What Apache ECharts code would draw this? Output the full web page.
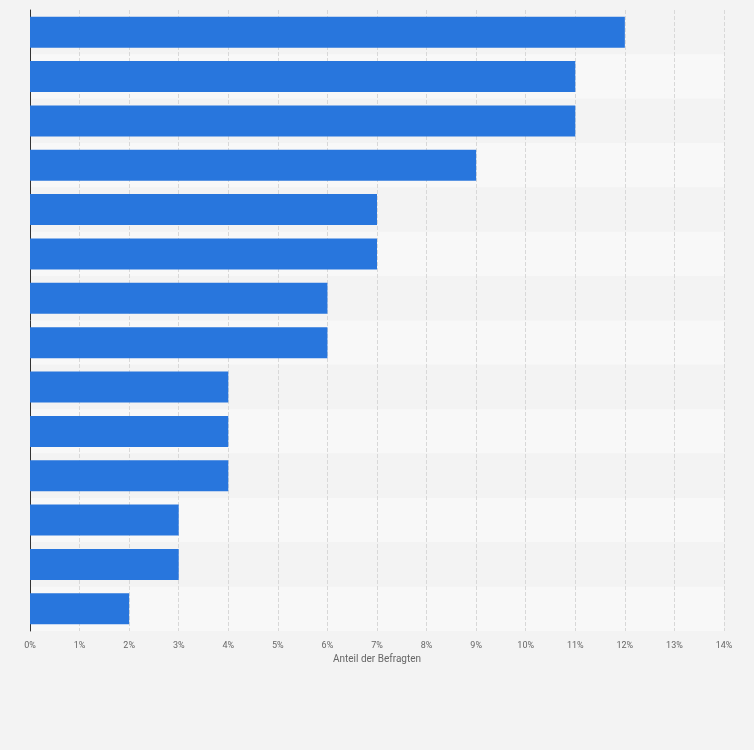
<!DOCTYPE html>
<html><head><meta charset="utf-8">
<script src="https://cdn.jsdelivr.net/npm/echarts@6/dist/echarts.min.js"></script>
<style>html,body{margin:0;background:#f3f3f3}#c{width:754px;height:750px}</style>
</head><body><div id="c"></div>
<script>
// rows top to bottom (labels are not shown in the picture)
var categories = ['1','2','3','4','5','6','7','8','9','10','11','12','13','14'];
var values = [12, 11, 11, 9, 7, 7, 6, 6, 4, 4, 4, 3, 3, 2];
var xTicks = [0, 14, 1];

var chart = echarts.init(document.getElementById('c'));
chart.setOption({
    backgroundColor: '#f3f3f3',
    grid: { left: 30, right: 30, top: 10, bottom: 119 },
    xAxis: {
        type: 'value', min: xTicks[0], max: xTicks[1], interval: xTicks[2],
        name: 'Anteil der Befragten', nameLocation: 'middle', nameGap: 19,
        nameTextStyle: { color: '#666', fontSize: 10, fontFamily: 'Roboto' },
        axisLabel: { formatter: '{value}%', color: '#666', fontSize: 9, fontFamily: 'Roboto', margin: 10 },
        axisLine: { show: false }, axisTick: { show: false },
        splitLine: { lineStyle: { color: '#d8d8d8', type: 'dashed' } }
    },
    yAxis: {
        type: 'category', data: categories, inverse: true,
        axisLabel: { show: false }, axisTick: { show: false },
        axisLine: { lineStyle: { color: '#333', width: 1 } },
        splitArea: { show: true, areaStyle: { color: ['#f3f3f3', '#f8f8f8'] } }
    },
    series: [{
        type: 'bar', data: values, barWidth: 31,
        itemStyle: { color: '#2876dd' }
    }]
});
</script></body></html>
